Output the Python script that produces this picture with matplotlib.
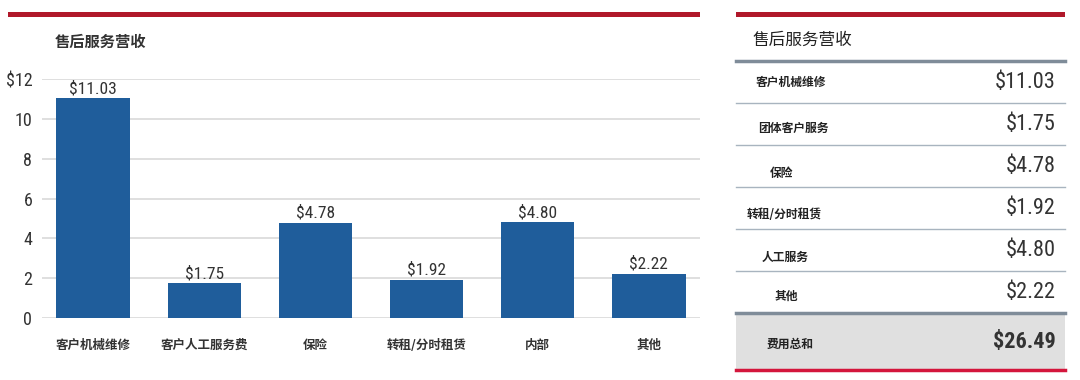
import matplotlib
matplotlib.use('Agg')
import matplotlib.pyplot as plt
from matplotlib.patches import Rectangle

plt.rcParams['font.family'] = ['Noto Sans CJK SC', 'DejaVu Sans']

# bar chart data
categories = ['客户机械维修', '客户人工服务费', '保险', '转租/分时租赁', '内部', '其他']
revenue = [11.03, 1.75, 4.78, 1.92, 4.80, 2.22]
yticks = [0, 2, 4, 6, 8, 10, 12]
ytick_labels = ['0', '2', '4', '6', '8', '10', '$12']

# table data
table_title = '售后服务营收'
table_rows = ['客户机械维修', '团体客户服务', '保险', '转租/分时租赁', '人工服务', '其他']
table_values = [11.03, 1.75, 4.78, 1.92, 4.80, 2.22]
total_label = '费用总和'
total_value = 26.49

# layout (pixels)
W, H = 1080, 380
label_x = [756, 758, 770, 747, 762, 775]
label_dy = [0, 4, 7, 6, 7, 4]
num_font = ['Roboto Condensed', 'DejaVu Sans']
blue = '#1f5d9b'
red = '#b0182a'

fig = plt.figure(figsize=(W / 100, H / 100), dpi=100)

# overlay in pixel coordinates for decorations and the table
bg = fig.add_axes([0, 0, 1, 1])
bg.set_xlim(0, W)
bg.set_ylim(H, 0)
bg.axis('off')

bg.add_patch(Rectangle((8, 12), 692, 5, color=red, lw=0))
bg.add_patch(Rectangle((736, 12), 329, 5, color=red, lw=0))
bg.text(55, 42, table_title, fontsize=11, fontweight='bold', color='#333333', va='center')

# bar chart
ax = fig.add_axes([42 / W, (H - 318) / H, 658 / W, 239 / H])
x = range(len(categories))
ax.bar(x, revenue, width=0.66, color=blue, zorder=3)
ax.set_xlim(-0.46, len(categories) - 0.54)
ax.set_ylim(0, 12)
ax.set_yticks(yticks)
ax.set_yticklabels(ytick_labels, fontsize=13, color='#333333', family=num_font)
ax.set_xticks(list(x))
ax.set_xticklabels(categories, fontsize=9, fontweight='bold', color='#333333')
ax.tick_params(axis='both', length=0)
ax.tick_params(axis='x', pad=15)
ax.tick_params(axis='y', pad=7)
ax.grid(axis='y', color='#dcdcdc', lw=1.3, zorder=0)
for s in ax.spines.values():
    s.set_visible(False)
for i, v in enumerate(revenue):
    ax.text(i, v + 0.1, f'${v:.2f}', ha='center', va='bottom', fontsize=12.5,
            color='#333333', family=num_font)

# table panel
bg.text(752, 40, table_title, fontsize=12, color='#222222', va='center')
bg.plot([736, 1065], [61, 61], color='#7f8c99', lw=2.5)
row_top = 61
row_h = 42
for i, (name, v) in enumerate(zip(table_rows, table_values)):
    yc = row_top + row_h * i + row_h / 2
    bg.text(label_x[i], yc + label_dy[i], name, fontsize=8.5, fontweight='bold',
            color='#222222', va='center')
    bg.text(1056, yc, f'${v:.2f}', fontsize=16, color='#333333', va='center',
            ha='right', family=num_font)
    if i < len(table_rows) - 1:
        yl = row_top + row_h * (i + 1)
        bg.plot([736, 1065], [yl, yl], color='#a8b4bf', lw=1)

y_tot = row_top + row_h * len(table_rows)
bg.add_patch(Rectangle((736, y_tot), 329, 370 - y_tot, color='#e0e0e0', lw=0))
bg.plot([736, 1065], [y_tot, y_tot], color='#7f8c99', lw=2.5)
bg.plot([736, 1065], [370, 370], color='#d4163c', lw=2.5)
bg.text(767, (y_tot + 370) / 2 + 3, total_label, fontsize=8.5, fontweight='bold',
        color='#222222', va='center')
bg.text(1056, (y_tot + 370) / 2, f'${total_value:.2f}', fontsize=16, fontweight='bold',
        color='#333333', va='center', ha='right', family=num_font)

fig.savefig('out.png', dpi=100)
